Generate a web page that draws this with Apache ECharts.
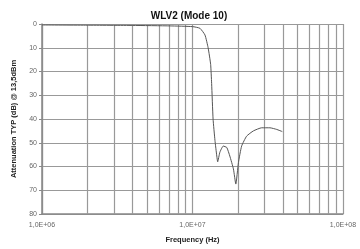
<!DOCTYPE html>
<html>
<head>
<meta charset="utf-8">
<script src="https://cdn.jsdelivr.net/npm/echarts@6/dist/echarts.min.js"></script>
<style>
  html, body { margin: 0; padding: 0; background: #fff; }
  #chart { width: 360px; height: 249px; }
</style>
</head>
<body>
<div id="chart"></div>
<script>
// frequency (Hz) and attenuation (dB)
const freqs = [1e6, 2e6, 4e6, 7.1e6, 1.0e7, 1.12e7, 1.21e7, 1.27e7, 1.32e7, 1.34e7, 1.37e7, 1.41e7,
  1.45e7, 1.47e7, 1.52e7, 1.60e7, 1.69e7, 1.77e7, 1.87e7, 1.94e7, 2.02e7, 2.12e7, 2.29e7,
  2.54e7, 2.88e7, 3.27e7, 3.63e7, 3.95e7]
const atten = [0.4, 0.5, 0.6, 0.8, 1.1, 1.8, 4.6, 10, 17, 25, 40, 49,
  55.6, 58, 54, 51.4, 52, 55.6, 61, 67.4, 58.3, 51.4, 47.2,
  45, 43.7, 43.7, 44.4, 45.3]

const xTickValues = [1e6, 1e7, 1e8]
const xTickLabels = ['1,0E+06', '1,0E+07', '1,0E+08']
const minorFreqs = [2e6, 3e6, 4e6, 5e6, 6e6, 7e6, 8e6, 9e6, 2e7, 3e7, 4e7, 5e7, 6e7, 7e7, 8e7, 9e7]

const chart = echarts.init(document.getElementById('chart'))

function xLabel(v) {
  const i = xTickValues.findIndex(t => Math.abs(Math.log10(t) - Math.log10(v)) < 0.01)
  return i >= 0 ? xTickLabels[i] : ''
}

const option = {
  backgroundColor: '#fff',
  animation: false,
  title: {
    text: 'WLV2 (Mode 10)',
    left: 184,
    textAlign: 'center',
    top: 6,
    textStyle: { fontFamily: 'Liberation Sans', fontSize: 10, fontWeight: 'bold', color: '#111' }
  },
  grid: { left: 42, right: 17, top: 24, bottom: 34 },
  xAxis: {
    type: 'log',
    logBase: 10,
    min: 1e6,
    max: 1e8,
    name: 'Frequency (Hz)',
    nameLocation: 'middle',
    nameGap: 22,
    nameTextStyle: { fontFamily: 'Liberation Sans', fontSize: 7.5, fontWeight: 'bold', color: '#222' },
    axisLine: { onZero: false, lineStyle: { color: '#888', width: 1.5 } },
    axisTick: { show: false },
    axisLabel: {
      fontFamily: 'Liberation Sans', fontSize: 7, color: '#666', margin: 8,
      formatter: xLabel
    },
    splitLine: { show: true, lineStyle: { color: '#999', width: 1.2 } }
  },
  yAxis: {
    type: 'value',
    inverse: true,
    min: 0,
    max: 80,
    interval: 10,
    name: 'Attenuation TYP (dB) @ 13,5dBm',
    nameLocation: 'middle',
    nameRotate: 90,
    nameGap: 20,
    nameTextStyle: { fontFamily: 'Liberation Sans', fontSize: 7.5, fontWeight: 'bold', color: '#222' },
    axisLine: { show: true, lineStyle: { color: '#888', width: 1.5 } },
    axisTick: { show: true, length: 3, lineStyle: { color: '#888' } },
    axisLabel: { fontFamily: 'Liberation Sans', fontSize: 7, color: '#666', margin: 5 },
    splitLine: { show: true, lineStyle: { color: '#999', width: 1.2 } }
  },
  series: [
    {
      type: 'line',
      data: freqs.map((f, i) => [f, atten[i]]),
      smooth: 0.15,
      showSymbol: false,
      lineStyle: { color: '#555', width: 1 },
      markLine: {
        silent: true,
        symbol: 'none',
        label: { show: false },
        lineStyle: { color: '#999', width: 1.2, type: 'solid' },
        data: minorFreqs.map(f => ({ xAxis: f }))
      },
      z: 5
    }
  ]
}
chart.setOption(option)
</script>
</body>
</html>
